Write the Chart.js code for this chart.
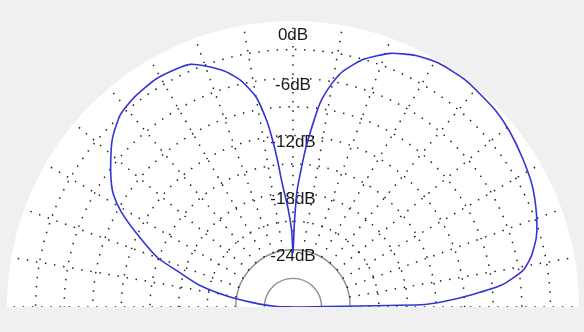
<!DOCTYPE html>
<html>
<head>
<meta charset="utf-8">
<script src="https://cdn.jsdelivr.net/npm/chart.js@4/dist/chart.umd.min.js"></script>
<style>
  html, body { margin: 0; padding: 0; background: #f0f0f0; overflow: hidden; }
  #wrap { width: 584px; height: 307px; overflow: hidden; position: relative; }
  #pattern { display: block; margin-left: -2px; }
</style>
</head>
<body>
<div id="wrap"><canvas id="pattern" width="590" height="614"></canvas></div>
<script>
// elevation angle (deg, 0 = right horizon, 180 = left horizon) and gain (dB)
const elevAngles = [0, 1, 2, 4, 6, 9, 12, 16, 21, 27, 33, 39, 44, 49, 53, 59, 64, 69, 74, 78,
  80, 82, 83, 85, 86, 88, 89, 90, 91, 93, 95, 96, 97, 98, 100, 103, 106, 110, 113, 116,
  121, 127, 132, 137, 141, 145, 148, 151, 155, 160, 163, 167, 171, 175, 178, 180];
const gainDb = [-30, -16.6, -14.3, -11.1, -8.0, -5.6, -4.45, -3.45, -2.65, -1.85, -1.3, -0.75, -0.4, -0.25, -0.1, -0.2, -0.65, -1.5, -2.95, -4.7,
  -6.1, -7.9, -9.3, -12.6, -14.4, -17.8, -21.0, -24.3, -22.0, -19.5, -17.0, -14.6, -12.3, -10.3, -7.6, -5.6, -4.3, -3.1, -2.35, -2.2,
  -2.1, -2.4, -2.9, -4.1, -5.4, -6.7, -7.8, -9.4, -12.0, -14.9, -17.5, -20.0, -23.3, -26.5, -28.3, -30];

// grid
const dbMin = -30, dbMax = 0, dbStep = 3;
const labelledDb = [0, -6, -12, -18, -24];
const solidRings = [-24, -27];
const spokeAngles = [0, 10, 20, 30, 40, 50, 60, 70, 80, 90, 100, 110, 120, 130, 140, 150, 160, 170, 180];
const spokeFrom = -24;

// radar index i sits i degrees clockwise from the top
const steps = 360;
const labels = [];
for (let i = 0; i < steps; i++) labels.push(String(i));
const indexOf = a => ((90 - a) % 360 + 360) % 360;

const values = new Array(steps).fill(null);
elevAngles.forEach((a, k) => { values[indexOf(a)] = gainDb[k]; });

const spokes = {
  id: 'spokes',
  beforeDatasetsDraw(chart) {
    const r = chart.scales.r;
    const ctx = chart.ctx;
    ctx.save();
    ctx.strokeStyle = '#222';
    ctx.lineWidth = 1.5;
    ctx.setLineDash([1.5, 7.7]);
    spokeAngles.forEach(a => {
      const p1 = r.getPointPositionForValue(indexOf(a), spokeFrom);
      const p2 = r.getPointPositionForValue(indexOf(a), dbMax);
      ctx.beginPath();
      ctx.moveTo(p1.x, p1.y);
      ctx.lineTo(p2.x, p2.y);
      ctx.stroke();
    });
    ctx.restore();
  }
};

new Chart(document.getElementById('pattern'), {
  type: 'radar',
  data: {
    labels: labels,
    datasets: [{
      data: values,
      borderColor: '#3434d6',
      borderWidth: 1.6,
      pointRadius: 0,
      pointHoverRadius: 0,
      fill: false,
      spanGaps: true,
      tension: 0.2
    }]
  },
  options: {
    responsive: false,
    animation: false,
    layout: { padding: { left: 0, right: 0, top: 12, bottom: 12 } },
    plugins: { legend: { display: false }, tooltip: { enabled: false } },
    scales: {
      r: {
        min: dbMin,
        max: dbMax,
        backgroundColor: '#ffffff',
        angleLines: { display: false },
        pointLabels: { display: false },
        grid: {
          circular: true,
          color: c => {
            const v = c.tick.value;
            if (v === dbMin || v === dbMax) return 'rgba(0,0,0,0)';
            return solidRings.includes(v) ? '#8e8e8e' : '#222';
          },
          lineWidth: c => solidRings.includes(c.tick.value) ? 1.4 : 1.5
        },
        border: {
          dash: c => solidRings.includes(c.tick.value) ? [] : [1.5, 7.7]
        },
        ticks: {
          stepSize: dbStep,
          showLabelBackdrop: false,
          backdropPadding: 0,
          color: '#1a1a1a',
          font: { family: 'Liberation Sans, Arial, sans-serif', size: 17, lineHeight: '7px' },
          // labels hang just below their ring; the outer one a little lower
          callback: v => {
            if (!labelledDb.includes(v)) return '';
            return v === dbMax ? ['', '', v + 'dB'] : ['', v + 'dB'];
          }
        }
      }
    }
  },
  plugins: [spokes]
});
</script>
</body>
</html>
